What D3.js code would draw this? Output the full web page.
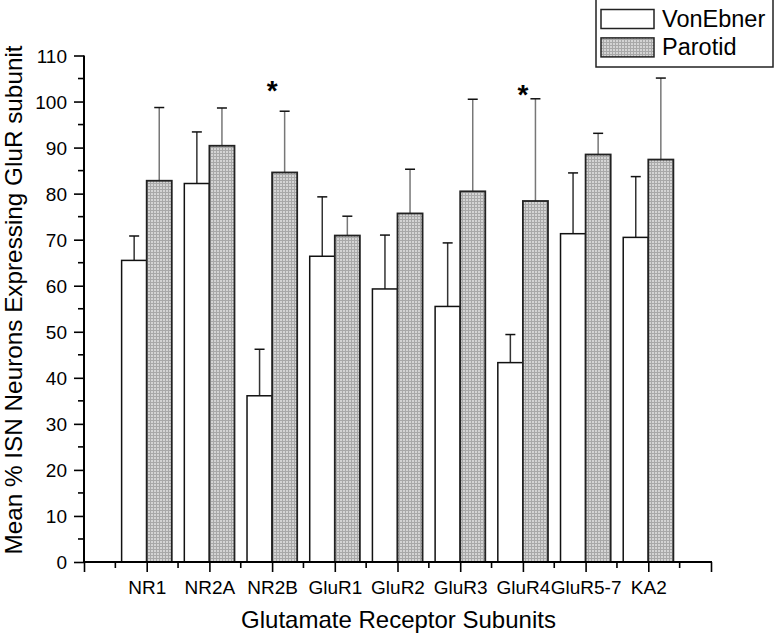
<!DOCTYPE html>
<html>
<head>
<meta charset="UTF-8">
<style>
  body { margin: 0; background: #fff; }
  text { font-family: "Liberation Sans", Arial, sans-serif; fill: #000; }
</style>
</head>
<body>
<svg width="778" height="638"></svg>
<script src="https://cdn.jsdelivr.net/npm/d3@7"></script>
<script>
// data
const subunits = ["NR1", "NR2A", "NR2B", "GluR1", "GluR2", "GluR3", "GluR4", "GluR5-7", "KA2"];
const vonEbner = [65.5, 82.2, 36.1, 66.4, 59.3, 55.5, 43.3, 71.3, 70.5];
const vonEbnerErr = [5.3, 11.2, 10.1, 12.9, 11.7, 13.8, 6.1, 13.2, 13.2];
const parotid = [82.8, 90.4, 84.6, 70.9, 75.7, 80.5, 78.4, 88.5, 87.4];
const parotidErr = [15.9, 8.2, 13.3, 4.2, 9.6, 20.0, 22.2, 4.6, 17.7];
const starred = ["NR2B", "GluR4"];
const starLevel = [103.8, 102.8]; // where the * sits, in % units
const yTicks = d3.range(0, 111, 10);

const svg = d3.select("svg");

// checker fill for Parotid bars
const pat = svg.append("defs").append("pattern")
  .attr("id", "grid")
  .attr("width", 3).attr("height", 3)
  .attr("patternUnits", "userSpaceOnUse");
pat.append("rect").attr("width", 3).attr("height", 3).attr("fill", "#d4d4d4");
pat.append("rect").attr("width", 3).attr("height", 1).attr("fill", "#a8a8a8");
pat.append("rect").attr("width", 1).attr("height", 3).attr("fill", "#a8a8a8");

const x = d3.scaleLinear().domain([0, 10]).range([84, 711]);
const y = d3.scaleLinear().domain([0, 110]).range([562, 55.5]);
const bw = 0.4; // bar width in category units
const tickFont = 19;

// y axis
const yAxis = svg.append("g").attr("transform", "translate(84,0)");
yAxis.call(d3.axisLeft(y).tickValues(yTicks).tickSize(10).tickPadding(7).tickFormat(d3.format("d")));
yAxis.selectAll(".tick text").attr("font-size", tickFont).attr("font-family", "Liberation Sans, Arial, sans-serif").attr("dy", "0.35em");
yAxis.selectAll(".tick line").attr("stroke-width", 1.6);
yAxis.select(".domain").remove();
yAxis.selectAll(".minor").data(d3.range(5, 110, 10)).enter().append("line")
  .attr("x1", 0).attr("x2", -6)
  .attr("y1", d => y(d)).attr("y2", d => y(d))
  .attr("stroke", "#000").attr("stroke-width", 1.6);
svg.append("line")
  .attr("x1", 84).attr("x2", 84).attr("y1", y(0) + 1).attr("y2", y(110))
  .attr("stroke", "#000").attr("stroke-width", 2);

// bars
const rows = subunits.map((s, i) => ({ s, i: i + 1, v: vonEbner[i], ve: vonEbnerErr[i], p: parotid[i], pe: parotidErr[i] }));

const g = svg.append("g");
function errBar(cx, top, val, col) {
  g.append("line").attr("x1", cx).attr("x2", cx).attr("y1", y(val)).attr("y2", y(val + top))
    .attr("stroke", col).attr("stroke-width", 1.5);
  g.append("line").attr("x1", cx - 5).attr("x2", cx + 5).attr("y1", y(val + top)).attr("y2", y(val + top))
    .attr("stroke", "#111").attr("stroke-width", 1.5);
}
rows.forEach(d => {
  errBar(x(d.i - bw / 2), d.ve, d.v, "#333");
  errBar(x(d.i + bw / 2), d.pe, d.p, "#777");
});
g.selectAll(".ve").data(rows).enter().append("rect")
  .attr("x", d => x(d.i - bw)).attr("width", x(bw) - x(0))
  .attr("y", d => y(d.v)).attr("height", d => y(0) - y(d.v))
  .attr("fill", "#fff").attr("stroke", "#111").attr("stroke-width", 1.5);
g.selectAll(".pa").data(rows).enter().append("rect")
  .attr("x", d => x(d.i)).attr("width", x(bw) - x(0))
  .attr("y", d => y(d.p)).attr("height", d => y(0) - y(d.p))
  .attr("fill", "url(#grid)").attr("stroke", "#222").attr("stroke-width", 1.8);

// stars (glyph centre sits ~15.5px above the baseline at 28px)
g.selectAll(".star").data(starred).enter().append("text")
  .attr("x", d => x(subunits.indexOf(d) + 1))
  .attr("y", (d, i) => y(starLevel[i]) + 15.5)
  .attr("text-anchor", "middle").attr("font-size", 28).attr("font-weight", "bold")
  .text("*");

// x axis
const xAxis = svg.append("g").attr("transform", `translate(0,${y(0)})`);
xAxis.call(d3.axisBottom(x).tickValues(d3.range(0, 11)).tickSize(10).tickPadding(9)
  .tickFormat(d => (d >= 1 && d <= 9) ? subunits[d - 1] : ""));
xAxis.selectAll(".tick text").attr("font-size", tickFont).attr("font-family", "Liberation Sans, Arial, sans-serif");
xAxis.selectAll(".tick line").attr("stroke-width", 1.6);
xAxis.select(".domain").remove();
xAxis.selectAll(".minor").data(d3.range(0.5, 10, 1)).enter().append("line")
  .attr("x1", d => x(d)).attr("x2", d => x(d)).attr("y1", 0).attr("y2", 6)
  .attr("stroke", "#000").attr("stroke-width", 1.6);
svg.append("line")
  .attr("x1", 83).attr("x2", x(10) + 1).attr("y1", y(0)).attr("y2", y(0))
  .attr("stroke", "#000").attr("stroke-width", 2);

// axis titles
svg.append("text").attr("x", 398.5).attr("y", 628)
  .attr("text-anchor", "middle").attr("font-size", 24)
  .text("Glutamate Receptor Subunits");
svg.append("text")
  .attr("transform", "translate(22,300) rotate(-90)")
  .attr("text-anchor", "middle").attr("font-size", 24.3)
  .text("Mean % ISN Neurons Expressing GluR subunit");

// legend
const leg = svg.append("g");
leg.append("rect").attr("x", 596).attr("y", -2).attr("width", 177).attr("height", 69)
  .attr("fill", "#fff").attr("stroke", "#222").attr("stroke-width", 1.5);
const legItems = [
  { name: "VonEbner", fill: "#fff" },
  { name: "Parotid", fill: "url(#grid)" }
];
legItems.forEach((d, i) => {
  leg.append("rect").attr("x", 601).attr("y", 9.5 + i * 28.4).attr("width", 53).attr("height", 19)
    .attr("fill", d.fill).attr("stroke", "#222").attr("stroke-width", 1.5);
  leg.append("text").attr("x", 662).attr("y", 27 + i * 27.5).attr("font-size", 23.5).text(d.name);
});
</script>
</body>
</html>
